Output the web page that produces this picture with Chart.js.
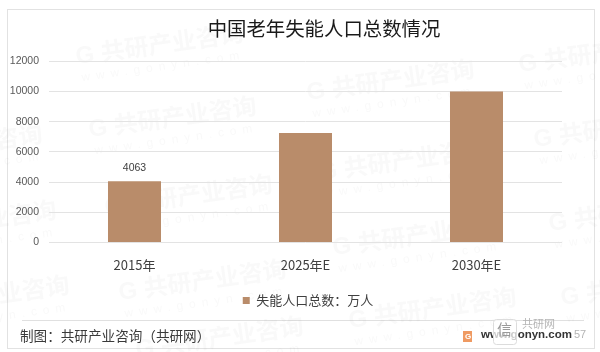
<!DOCTYPE html>
<html>
<head>
<meta charset="utf-8">
<script src="https://cdn.jsdelivr.net/npm/chart.js@4"></script>
<style>
  html, body { margin: 0; padding: 0; background: #fff; }
  canvas { display: block; }
</style>
</head>
<body>
<canvas id="chart" width="600" height="352"></canvas>
<script>
const categories = ['2015年', '2025年E', '2030年E'];
const seriesName = '失能人口总数\uFF1A万人';
const seriesValues = [4063, 7250, 10000];
const dataLabels = ['4063', '', ''];
const yTicks = [0, 2000, 4000, 6000, 8000, 10000, 12000];
const titleText = '中国老年失能人口总数情况';
const sourceText = '制图\uFF1A共研产业咨询\uFF08共研网\uFF09';
const siteText = 'www.gonyn.com';

const cjk = '"Noto Sans CJK SC", "Noto Sans", sans-serif';
const latin = '"Liberation Sans", Arial, sans-serif';

// faint background stamps, centre of the Chinese text
const stamps = [
    [172, 42], [185, 115], [201, 193], [215, 278], [232, 335],
    [403, 78], [415, 158], [429, 233], [445, 306],
    [615, 50], [630, 125], [645, 209], [657, 283],
    [-29, 143], [-15, 219], [-2, 294]
];

const frame = {
    id: 'frame',
    beforeDraw(chart) {
        const ctx = chart.ctx;
        ctx.save();
        ctx.fillStyle = '#fff';
        ctx.fillRect(0, 0, 600, 352);
        ctx.strokeStyle = '#e2e2e2';
        ctx.lineWidth = 1;
        ctx.strokeRect(7.5, 9.5, 587, 339);
        ctx.strokeStyle = '#e0e0e0';
        ctx.beginPath();
        ctx.moveTo(22, 320.5);
        ctx.lineTo(584, 320.5);
        ctx.stroke();
        stamps.forEach(([x, y]) => {
            ctx.save();
            ctx.translate(x, y);
            ctx.rotate(-0.14);
            ctx.fillStyle = 'rgba(90,90,90,0.04)';
            ctx.textAlign = 'center';
            ctx.textBaseline = 'middle';
            ctx.font = 'bold 24px ' + cjk;
            ctx.fillText('共研产业咨询', 0, 0);
            ctx.font = 'bold 24px ' + latin;
            ctx.fillText('G', -88, 2);
            ctx.font = '12px ' + latin;
            ctx.letterSpacing = '6px';
            ctx.fillText('www.gonyn.com', -12, 23);
            ctx.restore();
        });
        ctx.restore();
    },
    afterDraw(chart) {
        const ctx = chart.ctx;
        const xs = chart.scales.x, ys = chart.scales.y;
        ctx.save();
        ctx.textBaseline = 'middle';
        // value label over the bar
        ctx.textAlign = 'center';
        ctx.fillStyle = '#404040';
        ctx.font = '10.5px ' + latin;
        dataLabels.forEach((t, i) => {
            if (t) ctx.fillText(t, xs.getPixelForValue(i), ys.getPixelForValue(seriesValues[i]) - 13);
        });
        // footer
        ctx.textAlign = 'left';
        ctx.fillStyle = '#3a3a3a';
        ctx.font = '13.6px ' + cjk;
        ctx.fillText(sourceText, 20, 336);
        ctx.fillStyle = '#ef9a62';
        ctx.fillRect(463, 331, 9, 11);
        ctx.fillStyle = '#fff';
        ctx.font = 'bold 8px ' + latin;
        ctx.fillText('G', 465, 337);
        ctx.fillStyle = '#333';
        ctx.font = 'bold 11.5px ' + latin;
        ctx.fillText(siteText, 481, 335);
        // republisher's badge laid over the site name
        ctx.fillStyle = 'rgba(255,255,255,0.75)';
        ctx.strokeStyle = '#dcdcdc';
        ctx.beginPath();
        ctx.roundRect(493.5, 319.5, 23, 25, 3);
        ctx.fill();
        ctx.stroke();
        ctx.fillStyle = '#9a9a9a';
        ctx.font = '15px ' + cjk;
        ctx.fillText('信', 497, 329);
        ctx.fillStyle = '#b5b5b5';
        ctx.font = '11px ' + cjk;
        ctx.fillText('共研网', 522, 324);
        ctx.font = '11px ' + latin;
        ctx.fillText('57', 574, 335);
        ctx.restore();
    }
};

// title and legend are not centred on the canvas in the original
const nudge = {
    id: 'nudge',
    afterLayout(chart) {
        const t = chart.titleBlock, l = chart.legend;
        const dt = 324 - (t.left + t.right) / 2;
        t.left += dt;
        t.right += dt;
        const dl = 308 - (l.left + l.right) / 2;
        l.left += dl;
        l.right += dl;
    }
};

new Chart(document.getElementById('chart'), {
    type: 'bar',
    data: {
        labels: categories,
        datasets: [{
            label: seriesName,
            data: seriesValues,
            backgroundColor: '#b98c6a',
            categoryPercentage: 1,
            barPercentage: 0.31
        }]
    },
    options: {
        responsive: false,
        animation: false,
        layout: { padding: { top: 0, left: 10, right: 38, bottom: 35 } },
        plugins: {
            title: {
                display: true,
                text: titleText,
                color: '#1a1a1a',
                font: { family: cjk, size: 19.4, weight: 'normal' },
                padding: { top: 17, bottom: 21 }
            },
            legend: {
                position: 'bottom',
                labels: {
                    boxWidth: 7,
                    boxHeight: 7,
                    padding: 6,
                    color: '#404040',
                    font: { family: cjk, size: 13 }
                }
            },
            tooltip: { enabled: false }
        },
        scales: {
            x: {
                grid: { display: false },
                border: { display: false },
                afterFit(scale) { scale.height = 45.5; },
                ticks: {
                    color: '#404040',
                    padding: 7,
                    maxRotation: 0,
                    font: { family: cjk, size: 13 }
                }
            },
            y: {
                min: 0,
                max: 12000,
                afterFit(scale) { scale.width = 39; },
                afterBuildTicks(scale) { scale.ticks = yTicks.map(v => ({ value: v })); },
                grid: { color: '#e3e3e3', drawTicks: false },
                border: { display: false },
                ticks: {
                    color: '#595959',
                    padding: 10,
                    font: { family: latin, size: 10.5 },
                    callback: value => String(value)
                }
            }
        }
    },
    plugins: [frame, nudge]
});
</script>
</body>
</html>
